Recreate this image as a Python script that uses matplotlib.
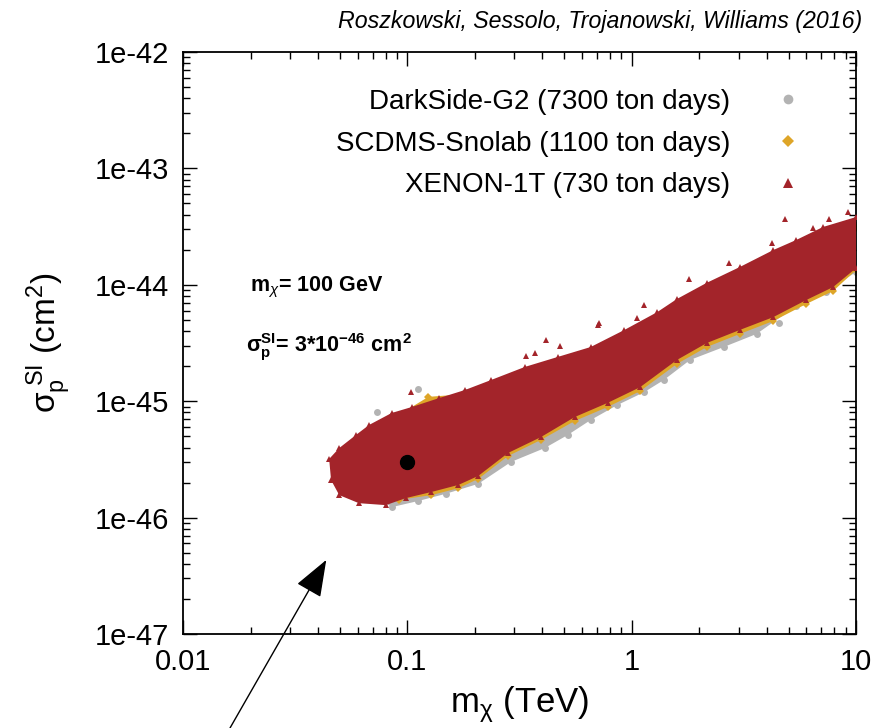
import numpy as np
import matplotlib
matplotlib.use("Agg")
import matplotlib.pyplot as plt
from matplotlib.lines import Line2D

plt.rcParams['font.family'] = ['Liberation Sans', 'DejaVu Sans']
plt.rcParams['mathtext.fontset'] = 'custom'
plt.rcParams['mathtext.rm'] = 'Liberation Sans'
plt.rcParams['mathtext.it'] = 'Liberation Sans:italic'
plt.rcParams['mathtext.bf'] = 'Liberation Sans:bold'

# outline of each scan region (m_chi in TeV, sigma in cm^2)
red_x = [0.0448, 0.0497, 0.0590, 0.0675, 0.0851, 0.1045, 0.1377, 0.181, 0.236, 0.334,
         0.468, 0.656, 0.927, 1.30, 1.59, 2.16, 3.03, 4.28, 5.42, 7.13, 10.0,
         10.0, 7.91, 6.00, 4.28, 3.03, 2.16, 1.59, 1.09, 0.780, 0.557, 0.394, 0.281,
         0.207, 0.169, 0.128, 0.0983, 0.0802, 0.0608, 0.0497, 0.0457]
red_y = [3.19e-46, 3.96e-46, 5.13e-46, 6.25e-46, 7.92e-46, 8.91e-46, 1.06e-45, 1.25e-45,
         1.52e-45, 1.97e-45, 2.40e-45, 2.92e-45, 4.09e-45, 5.83e-45, 7.55e-45, 1.04e-44,
         1.42e-44, 1.99e-44, 2.43e-44, 3.14e-44, 3.82e-44,
         1.39e-44, 9.57e-45, 7.40e-45, 5.28e-45, 4.09e-45, 3.16e-45, 2.26e-45, 1.32e-45,
         9.66e-46, 7.31e-46, 4.92e-46, 3.59e-46, 2.28e-46, 1.91e-46, 1.66e-46, 1.47e-46,
         1.28e-46, 1.33e-46, 1.56e-46, 2.10e-46]
# scattered XENON-1T points above the dense band
red_out_x = [0.1035, 0.338, 0.370, 0.414, 0.478, 0.705, 0.718, 1.06, 1.14, 1.80, 2.16,
             2.71, 2.94, 3.87, 4.20, 4.84, 6.44, 7.59, 9.20]
red_out_y = [1.20e-45, 2.44e-45, 2.59e-45, 3.36e-45, 2.98e-45, 4.52e-45, 4.70e-45,
             5.19e-45, 6.70e-45, 1.12e-44, 9.77e-45, 1.54e-44, 1.21e-44, 1.67e-44,
             2.29e-44, 3.67e-44, 3.08e-44, 3.67e-44, 4.22e-44]

gray_x = [0.0497, 0.0608, 0.0851, 0.1377, 0.181, 0.334, 0.656, 1.30, 3.03, 7.13, 10.0,
          10.0, 7.36, 5.42, 3.60, 2.57, 1.82, 1.39, 1.14, 0.863, 0.656, 0.519, 0.410,
          0.290, 0.207, 0.148, 0.112, 0.0851]
gray_y = [2.56e-46, 4.65e-46, 7.46e-46, 9.84e-46, 1.20e-45, 1.78e-45, 2.65e-45, 5.19e-45,
          1.21e-44, 2.68e-44, 3.27e-44,
          1.29e-44, 8.67e-45, 6.58e-45, 3.78e-45, 2.92e-45, 2.26e-45, 1.52e-45, 1.20e-45,
          9.27e-46, 6.89e-46, 5.13e-46, 3.96e-46, 3.01e-46, 1.95e-46, 1.60e-46, 1.39e-46,
          1.23e-46]
gray_out_x = [0.0731, 0.112, 4.55]
gray_out_y = [8.07e-46, 1.27e-45, 4.70e-45]

orange_x = [0.0522, 0.0608, 0.0914, 0.124, 0.181, 0.334, 0.656, 1.30, 3.03, 7.13, 10.0,
            10.0, 7.91, 6.00, 4.28, 3.03, 2.16, 1.59, 1.09, 0.780, 0.557, 0.394, 0.281,
            0.207, 0.169, 0.128, 0.0914]
orange_y = [2.67e-46, 4.46e-46, 7.60e-46, 1.09e-45, 1.15e-45, 1.71e-45, 2.55e-45, 4.99e-45,
            1.17e-44, 2.58e-44, 3.08e-44,
            1.34e-44, 8.85e-45, 6.84e-45, 4.89e-45, 3.78e-45, 2.92e-45, 2.09e-45, 1.22e-45,
            8.91e-46, 6.76e-46, 4.65e-46, 3.38e-46, 2.15e-46, 1.79e-46, 1.56e-46, 1.42e-46]

bench_x = [0.1]
bench_y = [3e-46]

labels = ["DarkSide-G2 (7300 ton days)", "SCDMS-Snolab (1100 ton days)", "XENON-1T (730 ton days)"]
xticks = [0.01, 0.1, 1, 10]
xticklabels = ["0.01", "0.1", "1", "10"]
yticks = [1e-47, 1e-46, 1e-45, 1e-44, 1e-43, 1e-42]
yticklabels = ["1e-47", "1e-46", "1e-45", "1e-44", "1e-43", "1e-42"]

c_gray = "#b3b3b3"
c_orange = "#dea528"
c_red = "#a3242a"

fig = plt.figure(figsize=(8.95, 7.28), dpi=100)
ax = fig.add_axes([0.2045, 0.1291, 0.7520, 0.7995])
ax.set_xscale("log")
ax.set_yscale("log")

ax.fill(gray_x, gray_y, color=c_gray, lw=0, zorder=1)
ax.plot(gray_x + gray_out_x, gray_y + gray_out_y, 'o', color=c_gray, ms=5, mew=0, zorder=1)
ax.fill(orange_x, orange_y, color=c_orange, lw=0, zorder=2)
ax.plot(orange_x, orange_y, 'D', color=c_orange, ms=4, mew=0, zorder=2)
ax.fill(red_x, red_y, color=c_red, lw=0, zorder=3)
ax.plot(red_x + red_out_x, red_y + red_out_y, '^', color=c_red, ms=5, mew=0, zorder=3)
ax.plot(bench_x, bench_y, 'o', color='black', ms=10, zorder=5)

ax.set_xlim(0.01, 10)
ax.set_ylim(1e-47, 1e-42)
ax.set_xticks(xticks)
ax.set_xticklabels(xticklabels)
ax.set_yticks(yticks)
ax.set_yticklabels(yticklabels)
ax.tick_params(which='both', direction='in', top=True, right=True, labelsize=21)
ax.tick_params(which='major', length=10, width=1, pad=10)
ax.tick_params(which='minor', length=5, width=1)
for s in ax.spines.values():
    s.set_linewidth(1.3)

ax.set_xlabel(r"m$_\mathrm{\chi}$ (TeV)", fontsize=25, labelpad=6)
ax.set_ylabel(r"$\mathrm{\sigma_p^{\ SI}}$ (cm$^2$)", fontsize=24, labelpad=16)

handles = [Line2D([], [], ls='none', marker='o', color=c_gray, ms=7, mew=0),
           Line2D([], [], ls='none', marker='D', color=c_orange, ms=6, mew=0),
           Line2D([], [], ls='none', marker='^', color=c_red, ms=7, mew=0)]
ax.legend(handles, labels, loc='upper right', frameon=False, markerfirst=False,
          fontsize=20, handletextpad=1.1, labelspacing=0.56,
          bbox_to_anchor=(0.978, 0.979))

ax.text(0.099, 0.589, r"m$_\chi$= 100 GeV", transform=ax.transAxes, fontsize=15.5,
        fontweight='bold')
ax.text(0.093, 0.485, r"$\mathbf{\sigma_p^{SI}}$= 3*10$^{\mathbf{-46}}$ cm$^\mathbf{2}$",
        transform=ax.transAxes, fontsize=15.5, fontweight='bold')

fig.text(0.963, 0.97, "Roszkowski, Sessolo, Trojanowski, Williams (2016)", ha='right',
         va='center', fontsize=16.7, style='italic')

ax.annotate("", xy=(0.0435, 4.33e-47), xycoords='data', xytext=(0.257, 0.0),
            textcoords='figure fraction', annotation_clip=False,
            arrowprops=dict(arrowstyle='-|>,head_length=0.4,head_width=0.15',
                            mutation_scale=58, color='black', lw=1,
                            shrinkA=0, shrinkB=0))

fig.savefig("out.png", dpi=100)
